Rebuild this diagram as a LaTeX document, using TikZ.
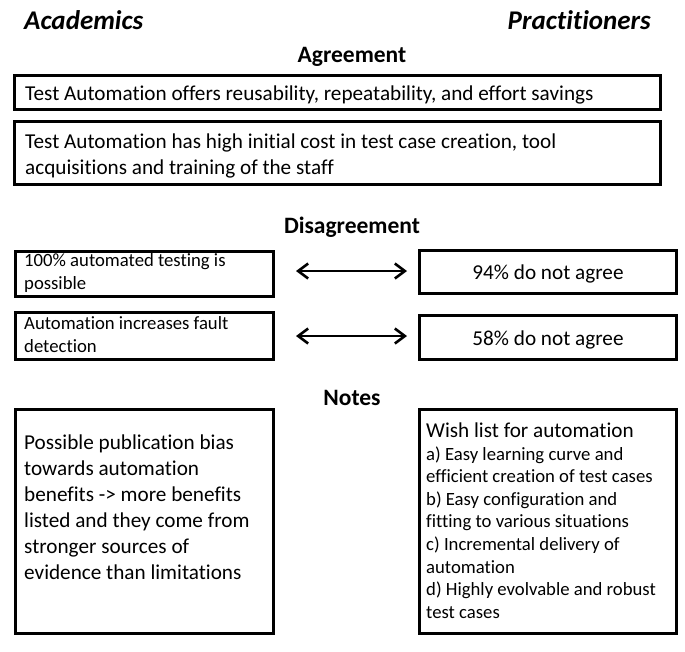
\documentclass[tikz,border=0pt]{standalone}
\usepackage{fontspec}
\setmainfont{Carlito}[Ligatures=NoCommon]
\usetikzlibrary{arrows.meta}
\begin{document}
\begin{tikzpicture}[x=1pt,y=-1pt,
  frame/.style={draw=black, line width=3pt},
  side/.style={font=\fontsize{27}{32}\selectfont\bfseries\itshape, inner sep=0pt},
  heading/.style={font=\fontsize{23.5}{28}\selectfont\bfseries, inner sep=0pt},
  bigtext/.style={font=\fontsize{21.2}{26}\selectfont, inner sep=0pt, align=left},
  smalltext/.style={font=\fontsize{18.7}{23}\selectfont, inner sep=0pt, align=left},
  listtext/.style={font=\fontsize{18.7}{22.6}\selectfont, inner sep=0pt, align=left},
  link/.style={line width=2.6pt, {Straight Barb[length=10pt,width=15pt]}-{Straight Barb[length=10pt,width=15pt]}}
]
\useasboundingbox (0,0) rectangle (685,651);

% column titles
\node[side, anchor=base west] (acad) at (24,29) {Academics};
\node[side, anchor=base east] (prac) at (651,29) {Practitioners};

% agreement
\node[heading] (agree) at (352,57) {Agreement};
\draw[frame] (14,75.5) rectangle (660,109.5);
\node[bigtext, anchor=west] (a1) at (25,94.5) {Test Automation offers reusability, repeatability, and effort savings};
\draw[frame] (14,121.5) rectangle (660,184.5);
\node[bigtext, anchor=west] (a2) at (25,156) {Test Automation has high initial cost in test case creation, tool\\acquisitions and training of the staff};

% disagreement
\node[heading] (disagree) at (352,227) {Disagreement};
\node[frame, minimum width=258pt, minimum height=45pt, anchor=north west] (l1) at (14,249.5) {};
\node[smalltext, anchor=west] at (24,273) {100\% automated testing is\\possible};
\node[frame, minimum width=257pt, minimum height=43pt, anchor=north west] (r1) at (418,249) {};
\node[bigtext] at ([yshift=-1.5pt]r1.center) {94\% do not agree};

\node[frame, minimum width=258pt, minimum height=47pt, anchor=north west] (l2) at (14,311) {};
\node[smalltext, anchor=west] at (24,335) {Automation increases fault\\detection};
\node[frame, minimum width=257pt, minimum height=44pt, anchor=north west] (r2) at (418,314) {};
\node[bigtext] at ([yshift=-2pt]r2.center) {58\% do not agree};

% double-headed connectors between the paired boxes
\coordinate (s1) at (296,271);
\coordinate (e1) at (407,271);
\coordinate (s2) at (296,336);
\coordinate (e2) at (407,336);
\draw[link] (s1) -- (e1);
\draw[link] (s2) -- (e2);

% notes
\node[heading] (notes) at (352,398) {Notes};
\node[frame, minimum width=258pt, minimum height=224pt, anchor=north west] (n1) at (14,408) {};
\node[bigtext, anchor=north west] at (24,435) {Possible publication bias\\towards automation\\benefits -> more benefits\\listed and they come from\\stronger sources of\\evidence than limitations};
\node[frame, minimum width=257pt, minimum height=224pt, anchor=north west] (n2) at (418,408) {};
\node[listtext, anchor=north west] at (426,422.5) {{\fontsize{21.2}{24}\selectfont Wish list for automation}\\a) Easy learning curve and\\efficient creation of test cases\\b) Easy configuration and\\fitting to various situations\\c) Incremental delivery of\\automation\\d) Highly evolvable and robust\\test cases};
\end{tikzpicture}
\end{document}
